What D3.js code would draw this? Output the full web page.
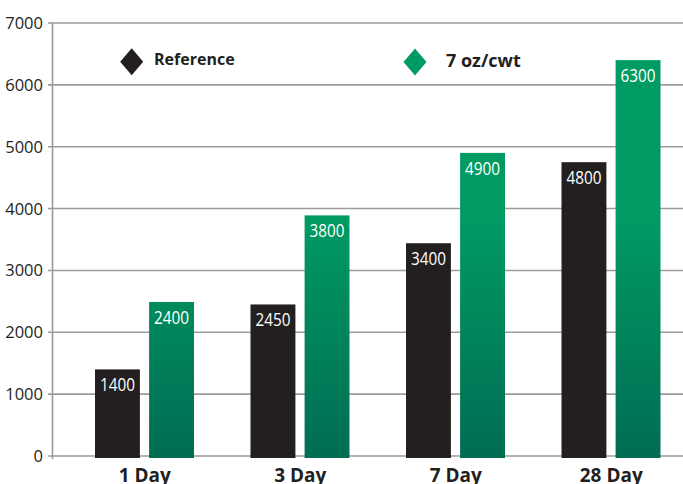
<!DOCTYPE html>
<html>
<head>
<meta charset="utf-8">
<script src="https://cdn.jsdelivr.net/npm/d3@7"></script>
<style>
  html, body { margin: 0; padding: 0; background: #fff; }
  svg { display: block; }
</style>
</head>
<body>
<script>
/* Data */

var categories = ["1 Day", "3 Day", "7 Day", "28 Day"];
var seriesNames = ["Reference", "7 oz/cwt"];

// bar heights as drawn in the picture
var referenceValues = [1400, 2450, 3440, 4750];
var treatedValues = [2490, 3890, 4900, 6400];

// numbers printed on the bars
var referenceLabels = ["1400", "2450", "3400", "4800"];
var treatedLabels = ["2400", "3800", "4900", "6300"];

var yTicks = [0, 1000, 2000, 3000, 4000, 5000, 6000, 7000];


/* Canvas */

var width = 683;
var height = 484;

var svg = d3.select("body").append("svg")
	.attr("width", width)
	.attr("height", height);

var defs = svg.append("defs");

var y = d3.scaleLinear()
	.domain([0, 7000])
	.range([456, 23]);

var x0 = d3.scaleBand()
	.domain(categories)
	.range([67, 689])
	.paddingInner(0)
	.paddingOuter(0);

var x1 = d3.scaleBand()
	.domain(seriesNames)
	.range([28, 127])
	.paddingInner(0.17);

var grad = defs.append("linearGradient")
	.attr("id", "greenGrad")
	.attr("gradientUnits", "userSpaceOnUse")
	.attr("x1", 0).attr("x2", 0)
	.attr("y1", y(7000)).attr("y2", y(0));
grad.append("stop").attr("offset", "0%").attr("stop-color", "#009c62");
grad.append("stop").attr("offset", "45%").attr("stop-color", "#009a63");
grad.append("stop").attr("offset", "100%").attr("stop-color", "#006d53");

var colors = {"Reference": "#231f20", "7 oz/cwt": "url(#greenGrad)"};


/* Grid and axis */

svg.append("g")
	.attr("class", "grid")
	.selectAll("line")
	.data(yTicks)
	.enter().append("line")
		.attr("x1", 48)
		.attr("x2", width)
		.attr("y1", function(d) { return y(d); })
		.attr("y2", function(d) { return y(d); })
		.attr("stroke", "#9b9b9b")
		.attr("stroke-width", 1.6);

svg.append("g")
	.attr("class", "ylabels")
	.selectAll("text")
	.data(yTicks)
	.enter().append("text")
		.attr("x", 43)
		.attr("y", function(d) { return y(d) + 6; })
		.attr("text-anchor", "end")
		.attr("font-family", "'Open Sans', sans-serif")
		.attr("font-size", 16.5)
		.attr("fill", "#231f20")
		.text(function(d) { return d; });


/* Bars */

var rows = categories.map(function(c, i) {
	return [
		{cat: c, series: seriesNames[0], value: referenceValues[i], label: referenceLabels[i]},
		{cat: c, series: seriesNames[1], value: treatedValues[i], label: treatedLabels[i]}
	];
});

var groups = svg.append("g")
	.attr("class", "bars")
	.selectAll("g")
	.data(rows)
	.enter().append("g")
		.attr("transform", function(d, i) { return "translate(" + x0(categories[i]) + ",0)"; });

groups.selectAll("rect")
	.data(function(d) { return d; })
	.enter().append("rect")
		.attr("x", function(d) { return x1(d.series); })
		.attr("width", x1.bandwidth())
		.attr("y", function(d) { return y(d.value); })
		.attr("height", function(d) { return y(0) + 2 - y(d.value); })
		.attr("fill", function(d) { return colors[d.series]; });

// condensed look: squeeze the label horizontally
groups.selectAll("text")
	.data(function(d) { return d; })
	.enter().append("text")
		.attr("transform", function(d) {
			return "translate(" + (x1(d.series) + x1.bandwidth() / 2) + "," + (y(d.value) + 22) + ") scale(0.85,1)";
		})
		.attr("text-anchor", "middle")
		.attr("font-family", "'Open Sans', sans-serif")
		.attr("font-size", 18)
		.attr("fill", "#ffffff")
		.text(function(d) { return d.label; });

// y axis line drawn over the grid
svg.append("line")
	.attr("x1", 52.5).attr("x2", 52.5)
	.attr("y1", y(7000)).attr("y2", y(0) + 3)
	.attr("stroke", "#9b9b9b")
	.attr("stroke-width", 1.6);


/* Category labels */

svg.append("g")
	.attr("class", "xlabels")
	.selectAll("text")
	.data(categories)
	.enter().append("text")
		.attr("x", function(d) { return x0(d) + x0.bandwidth() / 2; })
		.attr("y", 482)
		.attr("text-anchor", "middle")
		.attr("font-family", "'Open Sans', sans-serif")
		.attr("font-weight", "bold")
		.attr("font-size", 19)
		.attr("fill", "#231f20")
		.text(function(d) { return d; });


/* Legend */

var legendItems = [
	{name: seriesNames[0], fill: "#231f20", cx: 131.7, cy: 61.7, tx: 154, ty: 65, size: 16},
	{name: seriesNames[1], fill: "#009a63", cx: 415, cy: 62, tx: 446, ty: 67, size: 18}
];

var legend = svg.append("g").attr("class", "legend");

legend.selectAll("path")
	.data(legendItems)
	.enter().append("path")
		.attr("d", function(d) {
			return "M" + d.cx + "," + (d.cy - 13.5) +
				"L" + (d.cx + 11.5) + "," + d.cy +
				"L" + d.cx + "," + (d.cy + 13.5) +
				"L" + (d.cx - 11.5) + "," + d.cy + "Z";
		})
		.attr("fill", function(d) { return d.fill; });

legend.selectAll("text")
	.data(legendItems)
	.enter().append("text")
		.attr("x", function(d) { return d.tx; })
		.attr("y", function(d) { return d.ty; })
		.attr("font-family", "'Open Sans', sans-serif")
		.attr("font-weight", "bold")
		.attr("font-size", function(d) { return d.size; })
		.attr("fill", "#231f20")
		.text(function(d) { return d.name; });
</script>
</body>
</html>
